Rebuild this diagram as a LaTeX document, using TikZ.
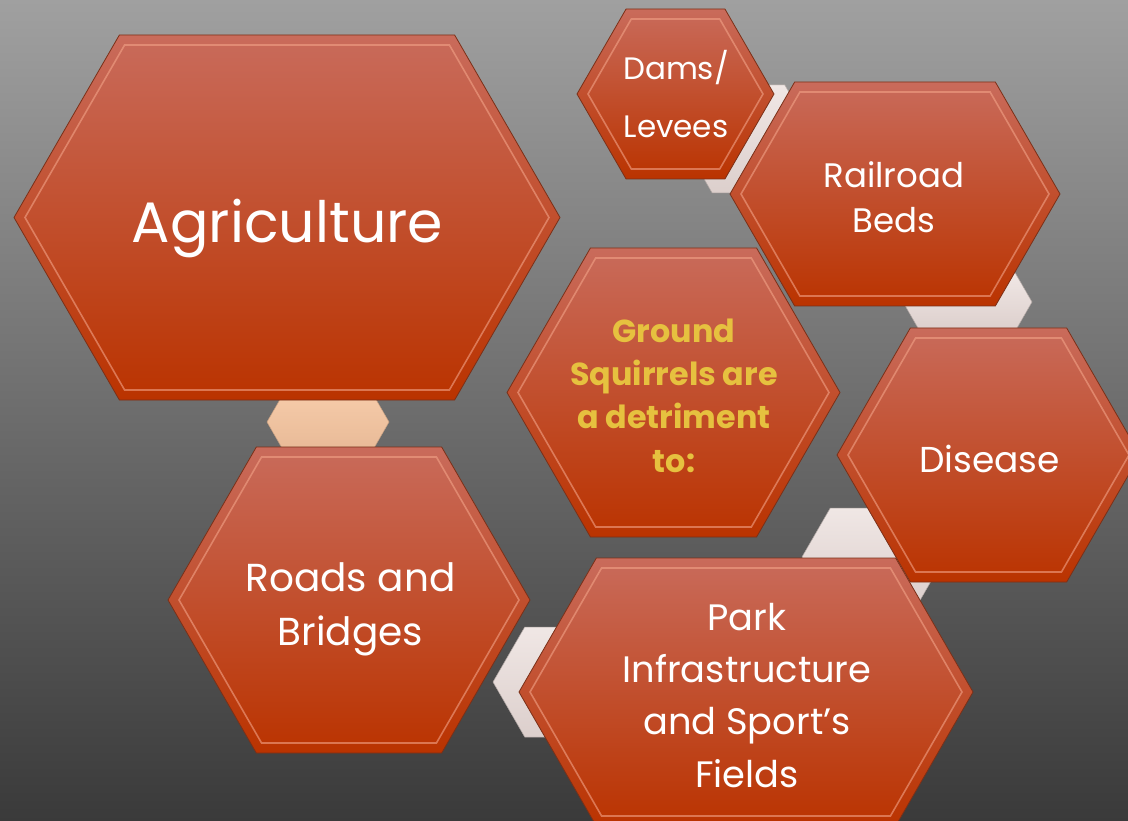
\documentclass[tikz,border=0pt]{standalone}
\usepackage{fontspec}
\setmainfont{Poppins}
\definecolor{bgtop}{HTML}{A0A0A0}
\definecolor{bgbot}{HTML}{3A3A3A}
\definecolor{hextop}{HTML}{C96B5B}
\definecolor{hexbot}{HTML}{BA3300}
\definecolor{hexline}{HTML}{7A3018}
\definecolor{bevel}{HTML}{F2A287}
\definecolor{linktop}{HTML}{F0E7E5}
\definecolor{linkbot}{HTML}{DCCFCC}
\definecolor{peachtop}{HTML}{F5CAA8}
\definecolor{peachbot}{HTML}{E9BB98}
\definecolor{squirrel}{HTML}{E6C13F}
% #1 style, #2 cx, #3 cy, #4 half width, #5 half height
\newcommand{\hexagon}[5]{%
  \path[#1] ({#2-(#4)},{#3}) -- ({#2-(#4)+0.5774*(#5)},{#3-(#5)})
    -- ({#2+(#4)-0.5774*(#5)},{#3-(#5)}) -- ({#2+(#4)},{#3})
    -- ({#2+(#4)-0.5774*(#5)},{#3+(#5)}) -- ({#2-(#4)+0.5774*(#5)},{#3+(#5)}) -- cycle;}
\newcommand{\bevelhex}[5]{%
  \hexagon{#1}{#2}{#3}{#4}{#5}
  \hexagon{hexbevel}{#2}{#3}{(#4)-11}{(#5)-10}}
\begin{document}
\begin{tikzpicture}[x=1pt,y=-1pt,
    hexface/.style={top color=hextop,bottom color=hexbot,draw=hexline,line width=0.8pt},
    hexbevel/.style={draw=bevel,line width=1.6pt,draw opacity=0.6},
    linkface/.style={top color=linktop,bottom color=linkbot,draw=linkbot!80!black,line width=0.5pt},
    peachface/.style={top color=peachtop,bottom color=peachbot,draw=peachbot!85!black,line width=0.5pt},
    hextext/.style={text=white,align=center,anchor=base,inner sep=0pt}]
  \useasboundingbox (0,0) rectangle (1128,821);
  \clip (0,0) rectangle (1128,821);
  \shade[top color=bgtop,bottom color=bgbot] (0,0) rectangle (1128,821);

  \hexagon{peachface}{328}{422}{61}{25}
  \hexagon{linkface}{748.5}{139}{67.5}{54}
  \hexagon{linkface}{967.5}{302}{64.5}{29}
  \hexagon{linkface}{873.5}{557}{71.5}{49}
  \hexagon{linkface}{563}{682}{70}{55}

  \bevelhex{hexface}{287}{217.5}{273}{182.5}
  \bevelhex{hexface}{349}{600}{181}{153}
  \bevelhex{hexface}{675.5}{94}{98.5}{85}
  \bevelhex{hexface}{895}{194}{165}{112}
  \bevelhex{hexface}{673.5}{392.5}{166.5}{144.5}
  \bevelhex{hexface}{988.5}{455}{151.5}{127}
  \bevelhex{hexface}{746}{692}{227}{134}

  \node[hextext,font=\fontsize{57}{62}\selectfont] (agri) at (287.5,243) {Agriculture};
  \node[hextext,font=\fontsize{31}{58}\selectfont] (dams) at (676,138) {Dams/\\Levees};
  \node[hextext,font=\fontsize{34}{45}\selectfont] (rail) at (894,233) {Railroad\\Beds};
  \node[hextext,text=squirrel,font=\bfseries\fontsize{31.8}{43.3}\selectfont] (squirrels) at (674,472)
    {Ground\\Squirrels are\\a detriment\\to:};
  \node[hextext,font=\fontsize{36}{44}\selectfont] (disease) at (989.5,472) {Disease};
  \node[hextext,font=\fontsize{39}{54}\selectfont] (roads) at (350.5,645) {Roads and\\Bridges};
  \node[hextext,font=\fontsize{36.8}{52.3}\selectfont] (park) at (747,787)
    {Park\\Infrastructure\\and Sport’s\\Fields};
\end{tikzpicture}
\end{document}
